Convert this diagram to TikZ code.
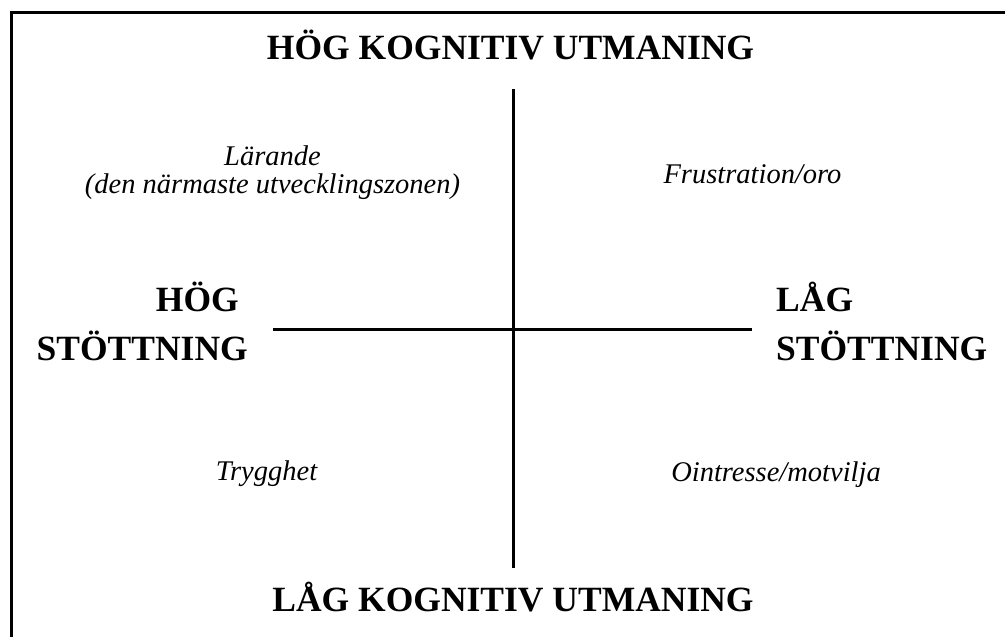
\documentclass[tikz,border=0pt]{standalone}
\usepackage{fontspec}
\setmainfont{Liberation Serif}[
  UprightFont={Liberation Serif},
  BoldFont={Liberation Serif Bold},
  ItalicFont={Liberation Serif Italic},
  BoldItalicFont={Liberation Serif Bold Italic}]
\tikzset{
  heading/.style={font=\fontsize{35.5}{40}\selectfont\bfseries, inner sep=0pt},
  zone/.style={font=\fontsize{28.5}{30}\selectfont\itshape, inner sep=0pt, anchor=base},
  axis/.style={line width=3pt, black},
  frame/.style={line width=3pt, black}
}
\begin{document}
\begin{tikzpicture}[x=1pt,y=-1pt]
\useasboundingbox (0,0) rectangle (1005,637);
\fill[white] (0,0) rectangle (1005,637);
% frame (top and left edges visible)
\coordinate (fTL) at (11,12);
\coordinate (fTR) at (1006,12);
\coordinate (fBL) at (11,638);
\draw[frame] (fTR) -- (fTL) -- (fBL);
% axes
\coordinate (vT) at (513,89);
\coordinate (vB) at (513,568);
\coordinate (hL) at (273,329);
\coordinate (hR) at (752,329);
\draw[axis] (vT) -- (vB);
\draw[axis] (hL) -- (hR);
% headings
\node[heading, anchor=base] (top) at (510.5,59) {HÖG KOGNITIV UTMANING};
\node[heading, anchor=base] (bottom) at (513,611) {LÅG KOGNITIV UTMANING};
\node[heading, anchor=base east] (leftA) at (239,311) {HÖG};
\node[heading, anchor=base east] (leftB) at (248,360) {STÖTTNING};
\node[heading, anchor=base west] (rightA) at (776,311) {LÅG};
\node[heading, anchor=base west] (rightB) at (776,360) {STÖTTNING};
% quadrant labels
\node[zone] (q1a) at (272.5,165) {Lärande};
\node[zone] (q1b) at (272.5,193) {(den närmaste utvecklingszonen)};
\node[zone] (q2) at (752.5,183) {Frustration/oro};
\node[zone] (q3) at (266.5,480) {Trygghet};
\node[zone] (q4) at (776,481) {Ointresse/motvilja};
\end{tikzpicture}
\end{document}
